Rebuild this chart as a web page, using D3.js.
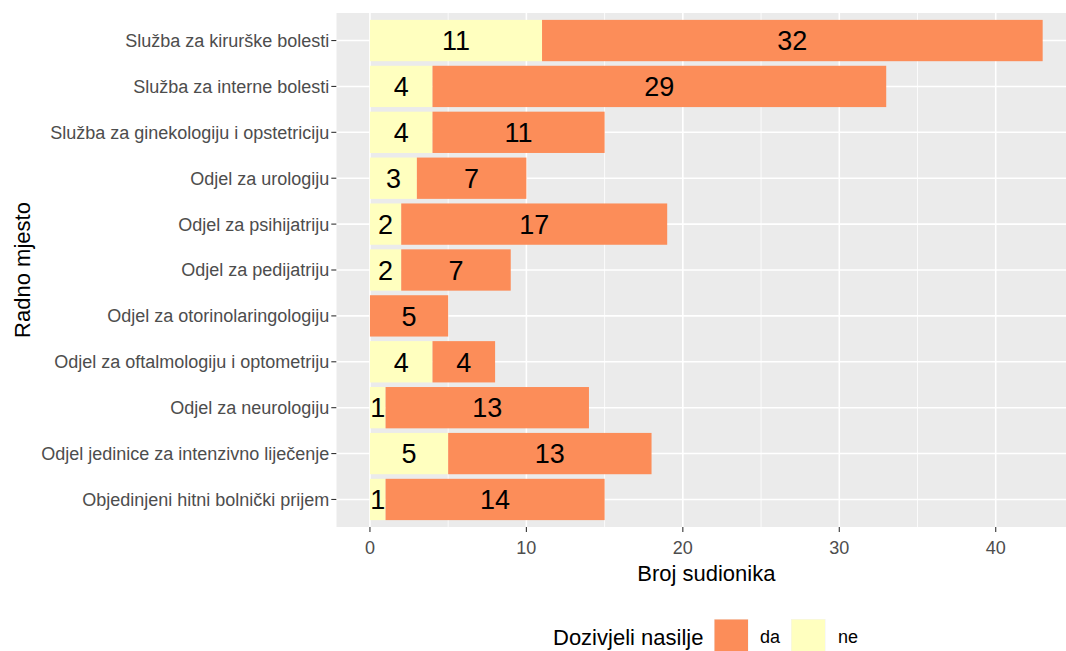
<!DOCTYPE html>
<html><head><meta charset="utf-8">
<script src="https://cdn.jsdelivr.net/npm/d3@7"></script>
<style>body{margin:0;background:#fff}svg{display:block;font-family:"Liberation Sans",Arial,sans-serif}</style>
</head><body><svg id="c" width="1066" height="651"></svg>
<script>
const categories = ["Služba za kirurške bolesti","Služba za interne bolesti","Služba za ginekologiju i opstetriciju","Odjel za urologiju","Odjel za psihijatriju","Odjel za pedijatriju","Odjel za otorinolaringologiju","Odjel za oftalmologiju i optometriju","Odjel za neurologiju","Odjel jedinice za intenzivno liječenje","Objedinjeni hitni bolnički prijem"];
const neValues = [11,4,4,3,2,2,0,4,1,5,1];
const daValues = [32,29,11,7,17,7,5,4,13,13,14];
const seriesNames = ["da","ne"];
const seriesColors = ["#FC8D59","#FFFFBF"];
const xTicks = [0,10,20,30,40];
const xMinor = [5,15,25,35];
const xTitle = "Broj sudionika", yTitle = "Radno mjesto", legendTitle = "Dozivjeli nasilje";

const svg = d3.select("#c");
const P = {l:336.3, r:1076.3, t:13, b:527};
const maxTot = d3.max(categories, (c,i)=>neValues[i]+daValues[i]);
const ex = maxTot*0.05;
const x = d3.scaleLinear().domain([-ex, maxTot+ex]).range([P.l, P.r]);
const y = d3.scaleBand().domain(categories).range([P.t, P.b]).paddingInner(0.1).paddingOuter(0.15);

const clip = svg.append("defs").append("clipPath").attr("id","pc").append("rect")
  .attr("x",P.l).attr("y",P.t).attr("width",P.r-P.l).attr("height",P.b-P.t);
const g = svg.append("g").attr("clip-path","url(#pc)");
g.append("rect").attr("x",P.l).attr("y",P.t).attr("width",P.r-P.l).attr("height",P.b-P.t).attr("fill","#EBEBEB");
g.selectAll(".mn").data(xMinor).join("line").attr("x1",d=>x(d)).attr("x2",d=>x(d)).attr("y1",P.t).attr("y2",P.b).attr("stroke","#fff").attr("stroke-width",0.8);
g.selectAll(".mj").data(xTicks).join("line").attr("x1",d=>x(d)).attr("x2",d=>x(d)).attr("y1",P.t).attr("y2",P.b).attr("stroke","#fff").attr("stroke-width",1.6);
g.selectAll(".hj").data(categories).join("line").attr("x1",P.l).attr("x2",P.r).attr("y1",d=>y(d)+y.bandwidth()/2).attr("y2",d=>y(d)+y.bandwidth()/2).attr("stroke","#fff").attr("stroke-width",1.6);

const rows = categories.map((c,i)=>({c, ne:neValues[i], da:daValues[i]}));
const segs = [];
rows.forEach(r=>{
  segs.push({c:r.c, s:"ne", x0:0, x1:r.ne, v:r.ne});
  segs.push({c:r.c, s:"da", x0:r.ne, x1:r.ne+r.da, v:r.da});
});
const color = d3.scaleOrdinal().domain(seriesNames).range(seriesColors);
g.selectAll(".bar").data(segs.filter(d=>d.v>0)).join("rect")
  .attr("x",d=>x(d.x0)).attr("width",d=>x(d.x1)-x(d.x0))
  .attr("y",d=>y(d.c)).attr("height",y.bandwidth()).attr("fill",d=>color(d.s));
g.selectAll(".lbl").data(segs.filter(d=>d.v>0)).join("text")
  .attr("x",d=>x((d.x0+d.x1)/2)).attr("y",d=>y(d.c)+y.bandwidth()/2).attr("dy","0.36em")
  .attr("text-anchor","middle").attr("font-size",27).attr("fill","#000").text(d=>d.v);

// axes
const yAx = svg.append("g");
yAx.selectAll("line").data(categories).join("line").attr("x1",P.l-5).attr("x2",P.l).attr("y1",d=>y(d)+y.bandwidth()/2).attr("y2",d=>y(d)+y.bandwidth()/2).attr("stroke","#333").attr("stroke-width",1.1);
yAx.selectAll("text").data(categories).join("text").attr("x",P.l-7).attr("y",d=>y(d)+y.bandwidth()/2).attr("dy","0.36em")
  .attr("text-anchor","end").attr("font-size",18).attr("fill","#4D4D4D").text(d=>d);
const xAx = svg.append("g");
xAx.selectAll("line").data(xTicks).join("line").attr("x1",d=>x(d)).attr("x2",d=>x(d)).attr("y1",P.b).attr("y2",P.b+5).attr("stroke","#333").attr("stroke-width",1.1);
xAx.selectAll("text").data(xTicks).join("text").attr("x",d=>x(d)).attr("y",554)
  .attr("text-anchor","middle").attr("font-size",18).attr("fill","#4D4D4D").text(d=>d);
svg.append("text").attr("x",(P.l+P.r)/2).attr("y",581).attr("text-anchor","middle").attr("font-size",22).attr("fill","#000").text(xTitle);
svg.append("text").attr("transform",`translate(30,${(P.t+P.b)/2}) rotate(-90)`).attr("text-anchor","middle").attr("font-size",22).attr("fill","#000").text(yTitle);

// legend
const lg = svg.append("g");
lg.append("text").attr("x",553).attr("y",645).attr("font-size",22).attr("fill","#000").text(legendTitle);
const keyX = [714, 791], labX = [760, 838];
seriesNames.forEach((s,i)=>{
  lg.append("rect").attr("x",keyX[i]).attr("y",619).attr("width",34.5).attr("height",34.5).attr("fill","#F2F2F2");
  lg.append("rect").attr("x",keyX[i]+0.5).attr("y",619.5).attr("width",33.5).attr("height",33.5).attr("fill",color(s));
  lg.append("text").attr("x",labX[i]).attr("y",643).attr("font-size",18).attr("fill","#000").text(s);
});
</script></body></html>
